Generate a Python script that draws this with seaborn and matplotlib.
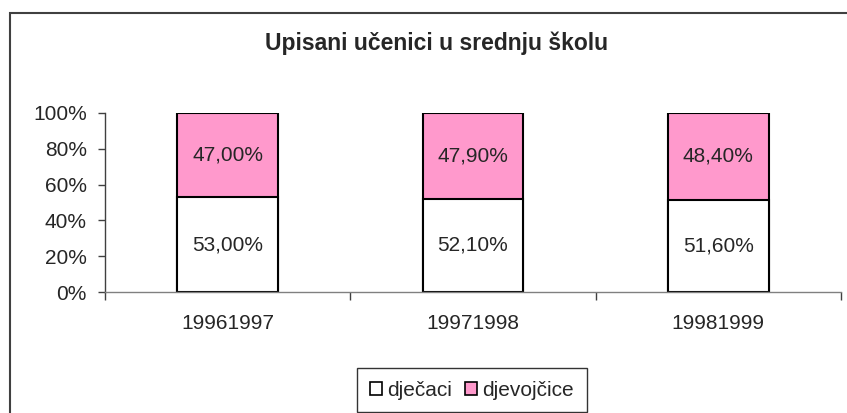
import pandas as pd
import seaborn as sns
import matplotlib.pyplot as plt
from matplotlib.patches import Rectangle, Patch


# data
godine = ['19961997', '19971998', '19981999']
djecaci = [53.0, 52.1, 51.6]
djevojcice = [47.0, 47.9, 48.4]
serije = ['dječaci', 'djevojčice']

PINK = '#FF99CC'

df = pd.DataFrame({'godina': godine, 'djecaci': djecaci, 'djevojcice': djevojcice})
df['ukupno'] = df['djecaci'] + df['djevojcice']

sns.set_theme(style='white')
plt.rcParams['font.family'] = ['Liberation Sans', 'DejaVu Sans']

fig = plt.figure(figsize=(8.47, 4.13), dpi=100)
ax = fig.add_axes([105 / 847, 1 - 292 / 413, (841 - 105) / 847, (292 - 113) / 413])

# stacked bars: full height in pink, boys drawn over it in white
sns.barplot(data=df, x='godina', y='ukupno', color=PINK, saturation=1, width=0.41,
            edgecolor='black', linewidth=1.5, ax=ax)
sns.barplot(data=df, x='godina', y='djecaci', color='white', saturation=1, width=0.41,
            edgecolor='black', linewidth=1.5, ax=ax)

# value labels in the middle of each segment
for i, row in df.iterrows():
    ax.text(i, row['djecaci'] / 2, f"{row['djecaci']:.2f}%".replace('.', ','),
            ha='center', va='center', fontsize=15)
    ax.text(i, row['djecaci'] + row['djevojcice'] / 2,
            f"{row['djevojcice']:.2f}%".replace('.', ','),
            ha='center', va='center', fontsize=15)

ax.set_xlim(-0.5, 2.5)
ax.set_ylim(0, 100)
ax.set_yticks(range(0, 101, 20))
ax.set_yticklabels([f'{v}%' for v in range(0, 101, 20)], fontsize=15)
ax.tick_params(axis='y', length=5, width=1, color='#404040', pad=8, left=True)
ax.set_xticks([-0.5, 0.5, 1.5, 2.5], minor=True)
ax.tick_params(axis='x', which='minor', length=6, width=1, color='#404040', bottom=True)
ax.tick_params(axis='x', which='major', length=0, pad=16, labelsize=15)
ax.set_xlabel('')
ax.set_ylabel('')

for s in ['top', 'right']:
    ax.spines[s].set_visible(False)
ax.spines['left'].set_color('#404040')
ax.spines['bottom'].set_color('#808080')
ax.spines['left'].set_linewidth(1)
ax.spines['bottom'].set_linewidth(1)

fig.text(437 / 847, 1 - 43 / 413, 'Upisani učenici u srednju školu',
         ha='center', va='center', fontsize=16.5, fontweight='bold')

# chart frame (cut off at right and bottom edges like the reference)
fig.patches.append(Rectangle((10 / 847, -0.1), 1.0, 1 - 13 / 413 + 0.1,
                             transform=fig.transFigure, fill=False,
                             edgecolor='#404040', linewidth=1.5, clip_on=False))

handles = [Patch(facecolor='white', edgecolor='black', linewidth=1.2),
           Patch(facecolor=PINK, edgecolor='black', linewidth=1.2)]
leg = fig.legend(handles, serije, loc='upper center',
                 bbox_to_anchor=(472 / 847, 1 - 368 / 413), borderaxespad=0,
                 ncol=2, fontsize=15, frameon=True, fancybox=False, edgecolor='black',
                 handlelength=0.6, handleheight=0.6, handletextpad=0.25,
                 columnspacing=0.6, borderpad=0.6)
leg.get_frame().set_linewidth(1)

fig.savefig('out.png', dpi=100)
